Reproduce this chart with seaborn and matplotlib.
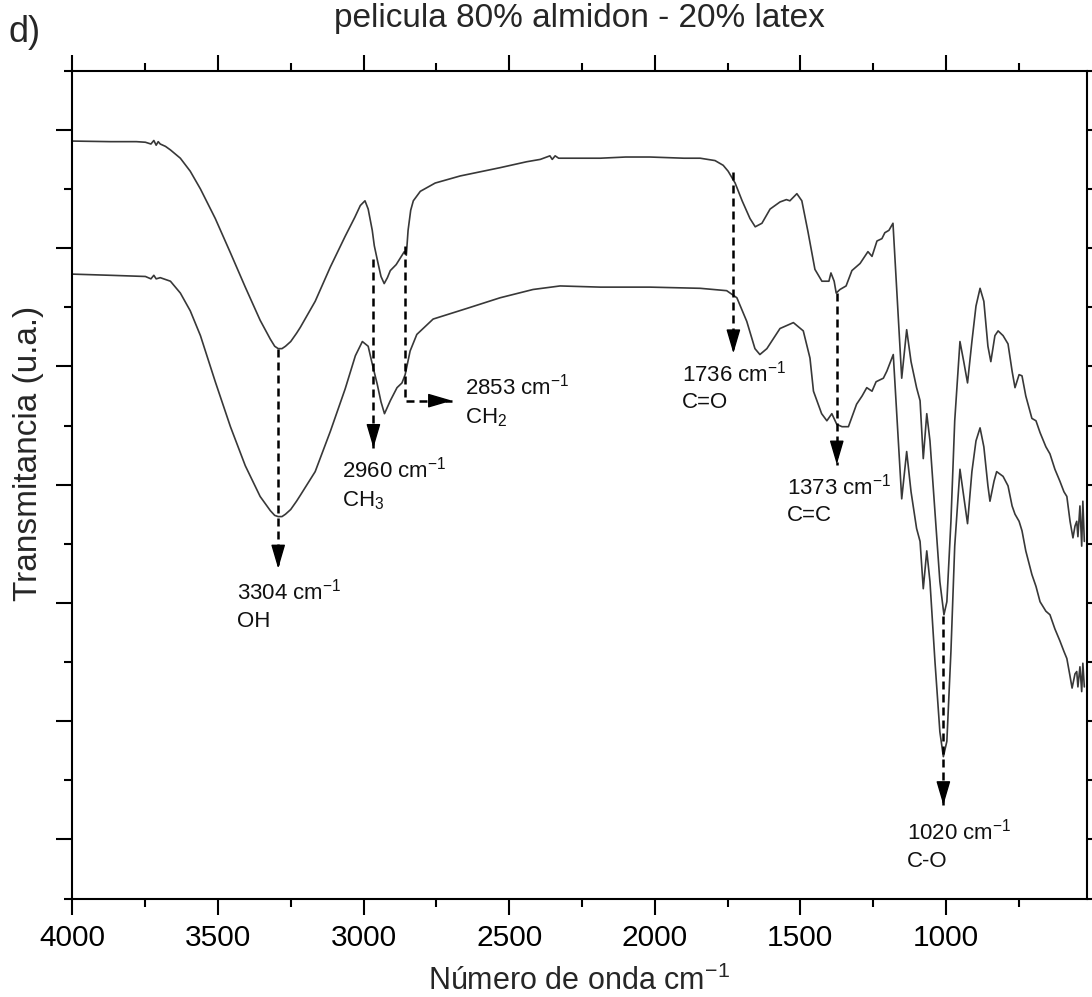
import numpy as np
import pandas as pd
import matplotlib
matplotlib.use("Agg")
import matplotlib.pyplot as plt
import seaborn as sns
from matplotlib.ticker import MultipleLocator

# upper spectrum: wavenumber (cm-1) and transmittance (u.a.)
wn_top = [4000, 3869, 3780, 3749, 3730, 3720, 3712, 3705, 3698, 3680, 3663, 3629, 3595, 3560,
          3509, 3457, 3406, 3355, 3320, 3305, 3293, 3280, 3268, 3250, 3230, 3217, 3166, 3114,
          3063, 3030, 3011, 2995, 2984, 2970, 2963, 2950, 2940, 2929, 2918, 2908, 2888, 2870,
          2860, 2853, 2847, 2838, 2829, 2805, 2754, 2668, 2531, 2440, 2393, 2360, 2352, 2342,
          2330, 2187, 2100, 2016, 1900, 1844, 1793, 1765, 1748, 1724, 1700, 1673, 1655, 1632,
          1604, 1570, 1548, 1536, 1512, 1495, 1474, 1450, 1426, 1402, 1395, 1384, 1377, 1364,
          1343, 1323, 1295, 1268, 1254, 1237, 1220, 1210, 1196, 1182, 1152, 1135, 1120, 1101,
          1089, 1078, 1066, 1055, 1038, 1021, 1007, 997, 983, 970, 952, 939, 926, 911, 897,
          883, 870, 856, 846, 832, 821, 804, 787, 773, 763, 749, 739, 726, 705, 691, 677, 657,
          643, 626, 609, 595, 585, 574, 564, 557, 551, 547, 540, 534, 530, 525]
tr_top = [59.05, 59.0, 59.0, 58.95, 58.8, 59.1, 58.7, 59.0, 58.8, 58.6, 58.3, 57.6, 56.5, 55.0,
          52.5, 49.6, 46.7, 43.9, 42.3, 41.7, 41.5, 41.5, 41.7, 42.1, 42.8, 43.3, 45.5, 48.4,
          51.0, 52.6, 53.6, 54.0, 53.3, 51.5, 50.2, 48.7, 47.6, 47.0, 47.5, 48.1, 48.6, 49.3,
          49.7, 49.4, 51.5, 53.2, 54.0, 54.8, 55.5, 56.1, 56.8, 57.3, 57.5, 57.8, 57.5, 57.8,
          57.6, 57.6, 57.7, 57.7, 57.6, 57.6, 57.4, 57.0, 56.5, 55.5, 54.0, 52.5, 51.8, 52.1,
          53.3, 53.9, 54.1, 54.0, 54.6, 54.0, 51.4, 48.2, 47.2, 47.2, 47.9, 47.2, 46.2, 46.5,
          46.8, 48.1, 48.7, 49.7, 49.3, 50.6, 50.8, 51.3, 51.5, 52.1, 39.0, 43.1, 40.4, 38.2,
          37.1, 32.2, 36.0, 33.7, 27.7, 21.8, 19.0, 20.1, 26.9, 35.4, 42.1, 40.4, 38.6, 42.1,
          45.1, 46.6, 45.5, 41.7, 40.4, 42.6, 43.0, 42.6, 41.9, 39.6, 38.2, 39.3, 39.2, 37.5,
          35.6, 35.4, 34.4, 33.2, 32.6, 31.3, 30.3, 29.4, 29.0, 26.9, 25.5, 26.5, 26.9, 25.6,
          28.2, 24.8, 28.6, 25.2]

# lower spectrum
wn_bot = [4000, 3869, 3749, 3730, 3720, 3712, 3698, 3663, 3629, 3595, 3560, 3509, 3457, 3406,
          3355, 3320, 3305, 3293, 3280, 3268, 3250, 3230, 3217, 3166, 3114, 3063, 3028, 3004,
          2984, 2970, 2953, 2940, 2928, 2908, 2885, 2868, 2857, 2840, 2817, 2761, 2645, 2531,
          2418, 2325, 2187, 2016, 1844, 1753, 1718, 1684, 1656, 1639, 1615, 1570, 1524, 1490,
          1467, 1455, 1427, 1409, 1392, 1375, 1357, 1335, 1307, 1288, 1272, 1254, 1240, 1215,
          1203, 1181, 1152, 1135, 1120, 1101, 1089, 1078, 1066, 1055, 1038, 1021, 1009, 997,
          983, 970, 952, 939, 926, 911, 897, 883, 870, 856, 849, 835, 826, 804, 787, 773, 763,
          749, 739, 726, 705, 691, 677, 657, 643, 626, 609, 595, 585, 574, 567, 557, 551, 547,
          540, 534, 530, 525]
tr_bot = [47.8, 47.7, 47.6, 47.4, 47.7, 47.4, 47.5, 47.2, 46.2, 44.7, 42.6, 38.7, 34.9, 31.6,
          29.0, 27.8, 27.4, 27.3, 27.3, 27.5, 27.9, 28.6, 29.1, 31.1, 34.5, 38.1, 40.9, 42.1,
          41.7, 40.2, 38.5, 37.0, 36.0, 37.1, 38.2, 38.6, 39.3, 41.3, 42.7, 44.0, 44.9, 45.8,
          46.5, 46.8, 46.7, 46.7, 46.6, 46.4, 45.8, 43.8, 41.5, 41.0, 41.5, 43.2, 43.7, 43.0,
          40.7, 37.9, 36.0, 35.4, 36.0, 35.1, 34.9, 34.9, 36.8, 37.5, 38.2, 37.9, 38.7, 39.0,
          39.6, 41.0, 28.8, 32.8, 29.4, 26.3, 25.2, 21.2, 24.4, 21.8, 15.1, 9.1, 7.0, 8.3,
          15.9, 24.8, 31.3, 29.0, 26.7, 31.1, 33.7, 34.8, 33.2, 29.9, 28.6, 30.3, 31.1, 30.7,
          29.9, 28.2, 27.5, 26.9, 26.1, 24.4, 22.4, 21.4, 20.1, 19.3, 19.0, 17.8, 16.8, 15.9,
          15.3, 13.8, 12.8, 14.0, 14.2, 12.9, 14.6, 12.5, 14.9, 12.9]

# band assignments: arrow position, start/end of the dashed arrow, label anchor
band_labels = ["3304", "2960", "1736", "1373", "1020"]
band_groups = ["OH", "CH$_\\mathregular{3}$", "C=O", "C=C", "C-O"]
band_wn = [3293, 2966, 1730, 1375, 1009]
band_start = [41.5, 49.1, 56.4, 46.2, 18.9]
band_tip = [22.9, 33.1, 41.1, 31.7, 2.9]
label_x = [3434, 3074, 1907, 1547, 1135]
label_y1 = [20.3, 30.6, 38.7, 29.2, 0.0]
label_y2 = [18.0, 28.2, 36.5, 26.9, -2.3]

# the CH2 band uses an elbow arrow pointing right
ch2_wn, ch2_start, ch2_corner, ch2_end = 2857, 50.2, 37.1, 2696
ch2_label_x, ch2_y1, ch2_y2 = 2651, 37.6, 35.2

sns.set_theme(style="ticks")
plt.rcParams["font.family"] = ["Liberation Sans", "DejaVu Sans"]
plt.rcParams["mathtext.fontset"] = "custom"
plt.rcParams["mathtext.rm"] = "Liberation Sans"
plt.rcParams["mathtext.it"] = "Liberation Sans:italic"
plt.rcParams["mathtext.default"] = "regular"

fig = plt.figure(figsize=(10.92, 9.97), dpi=100, facecolor="white")
ax = fig.add_axes([0.0662, 0.0987, 0.9289, 0.8304])
ax.set_facecolor("white")

line_col = "#383838"
sns.lineplot(x=wn_top, y=tr_top, ax=ax, color=line_col, lw=1.2, sort=False, estimator=None)
sns.lineplot(x=wn_bot, y=tr_bot, ax=ax, color=line_col, lw=1.2, sort=False, estimator=None)

ax.set_xlim(4000, 517)
ax.set_ylim(-5, 65)
ax.xaxis.set_major_locator(MultipleLocator(500))
ax.xaxis.set_minor_locator(MultipleLocator(250))
ax.yaxis.set_major_locator(MultipleLocator(10))
ax.yaxis.set_minor_locator(MultipleLocator(5))
ax.tick_params(which="both", direction="out", width=1.5, colors="black",
               top=True, right=True, labeltop=False, labelright=False, labelleft=False)
ax.tick_params(which="major", length=11.5)
ax.tick_params(which="minor", length=6)
ax.tick_params(axis="x", which="major", labelsize=21.5, pad=7)
for s in ax.spines.values():
    s.set_linewidth(1.5)
    s.set_color("black")

dash = (0, (3.2, 2.0))
head = "-|>,head_length=0.75,head_width=0.22"
txt_size = 16
for i in range(len(band_wn)):
    ax.plot([band_wn[i], band_wn[i]], [band_start[i], band_tip[i]], color="black",
            lw=1.8, linestyle=dash)
    ax.annotate("", xy=(band_wn[i], band_tip[i]), xytext=(0, 16), textcoords="offset points",
                arrowprops=dict(arrowstyle=head, color="black", lw=1, mutation_scale=20,
                                shrinkA=0, shrinkB=0))
    ax.text(label_x[i], label_y1[i], band_labels[i] + " cm$^{-1}$", fontsize=txt_size,
            ha="left", va="baseline", color="#111111")
    ax.text(label_x[i], label_y2[i], band_groups[i], fontsize=txt_size,
            ha="left", va="baseline", color="#111111")

ax.plot([ch2_wn, ch2_wn, ch2_end], [ch2_start, ch2_corner, ch2_corner], color="black",
        lw=1.8, linestyle=dash)
ax.annotate("", xy=(ch2_end, ch2_corner), xytext=(-16, 0), textcoords="offset points",
            arrowprops=dict(arrowstyle=head, color="black", lw=1, mutation_scale=20,
                            shrinkA=0, shrinkB=0))
ax.text(ch2_label_x, ch2_y1, "2853 cm$^{-1}$", fontsize=txt_size, ha="left", va="baseline",
        color="#111111")
ax.text(ch2_label_x, ch2_y2, "CH$_\\mathregular{2}$", fontsize=txt_size, ha="left",
        va="baseline", color="#111111")

ax.set_xlabel("Número de onda cm$^{-1}$", fontsize=22, labelpad=10)
ax.set_ylabel("Transmitancia (u.a.)", fontsize=24)
ax.yaxis.set_label_coords(-0.028, 0.538)
ax.text(0.5, 1.0528, "pelicula 80% almidon - 20% latex", transform=ax.transAxes,
        ha="center", va="baseline", fontsize=24)
fig.text(0.008, 1 - 42 / 997, "d)", fontsize=26, ha="left", va="baseline")

plt.savefig("out.png", dpi=100, facecolor="white")
